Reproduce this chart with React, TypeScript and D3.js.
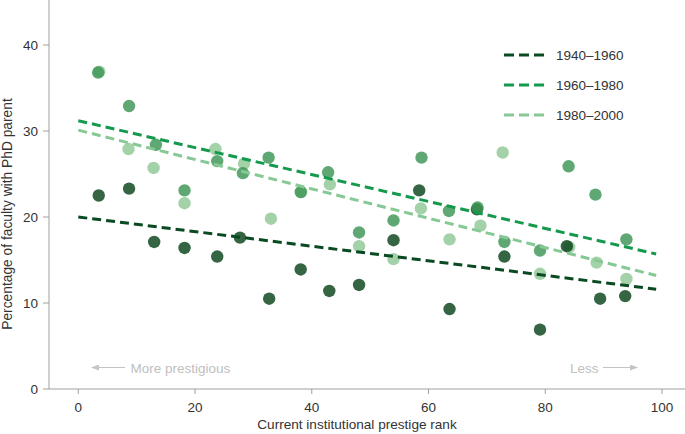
import React from "react";
import * as d3 from "d3";

const W = 685;
const H = 434;

const series = ["1940–1960", "1960–1980", "1980–2000"];
const lineColors = ["#0a4a22", "#14994d", "#86c995"];
const pointColors = ["#08431a", "#3d9554", "#8fc795"];

const xDark = [3.5, 8.7, 13.0, 18.2, 23.8, 27.7, 32.7, 38.1, 43.0, 48.1, 54.0, 58.4, 63.6, 68.3, 73.0, 79.1, 83.7, 89.4, 93.7];
const yDark = [22.5, 23.3, 17.1, 16.4, 15.4, 17.6, 10.5, 13.9, 11.4, 12.1, 17.3, 23.1, 9.3, 20.9, 15.4, 6.9, 16.6, 10.5, 10.8];

const xMid = [3.4, 8.7, 13.3, 18.2, 23.8, 28.2, 32.6, 38.1, 42.8, 48.1, 54.0, 58.8, 63.5, 68.4, 73.0, 79.1, 84.0, 88.6, 93.9];
const yMid = [36.8, 32.9, 28.4, 23.1, 26.5, 25.1, 26.9, 22.9, 25.2, 18.2, 19.6, 26.9, 20.7, 21.1, 17.1, 16.1, 25.9, 22.6, 17.4];

const xLight = [3.6, 8.6, 12.9, 18.2, 23.5, 28.4, 33.0, 38.2, 43.1, 48.1, 54.0, 58.7, 63.6, 68.9, 72.7, 79.1, 84.1, 88.8, 93.9];
const yLight = [36.9, 27.9, 25.7, 21.6, 27.9, 26.2, 19.8, 22.9, 23.8, 16.6, 15.1, 21.0, 17.4, 19.0, 27.5, 13.4, 16.5, 14.7, 12.8];

const trendX = [0, 99];
const trendDark = [20.0, 11.6];
const trendMid = [31.2, 15.7];
const trendLight = [30.1, 13.2];

const xTicks = [0, 20, 40, 60, 80, 100];
const yTicks = [0, 10, 20, 30, 40];

const xLabel = "Current institutional prestige rank";
const yLabel = "Percentage of faculty with PhD parent";
const leftNote = "More prestigious";
const rightNote = "Less";

const FONT = "'Liberation Sans', Arial, Helvetica, sans-serif";

export default function App() {
  const x = d3.scaleLinear().domain([0, 100]).range([78.3, 662]);
  const y = d3.scaleLinear().domain([0, 10]).range([389, 303]);
  const axisColor = "#a0a0a0";
  const textColor = "#333";

  const pts = [
    { xs: xLight, ys: yLight, c: pointColors[2] },
    { xs: xDark, ys: yDark, c: pointColors[0] },
    { xs: xMid, ys: yMid, c: pointColors[1] },
  ];
  const trends = [
    { ys: trendDark, c: lineColors[0] },
    { ys: trendMid, c: lineColors[1] },
    { ys: trendLight, c: lineColors[2] },
  ];
  const line = d3
    .line<[number, number]>()
    .x((d) => x(d[0]))
    .y((d) => y(d[1]));

  return (
    <svg
      width={W}
      height={H}
      style={{ position: "absolute", left: 0, top: 0, background: "#fff" }}
      fontFamily={FONT}
    >
      {/* axes */}
      <line x1={49} x2={49} y1={0} y2={389} stroke={axisColor} strokeWidth={1} />
      <line x1={49} x2={W} y1={389} y2={389} stroke={axisColor} strokeWidth={1} />
      {yTicks.map((t) => (
        <g key={"y" + t}>
          <line x1={43} x2={49} y1={y(t)} y2={y(t)} stroke={axisColor} />
          <text x={38} y={y(t)} dy="0.35em" textAnchor="end" fontSize={13.5} fill={textColor}>
            {t}
          </text>
        </g>
      ))}
      {xTicks.map((t) => (
        <g key={"x" + t}>
          <line x1={x(t)} x2={x(t)} y1={389} y2={394} stroke={axisColor} />
          <text x={x(t)} y={412} textAnchor="middle" fontSize={13.5} fill={textColor}>
            {t}
          </text>
        </g>
      ))}
      <text x={357} y={429} textAnchor="middle" fontSize={13.6} fill={textColor}>
        {xLabel}
      </text>
      <text
        transform={`translate(12,${214}) rotate(-90)`}
        textAnchor="middle"
        fontSize={13.8}
        fill={textColor}
      >
        {yLabel}
      </text>

      {/* annotations */}
      <defs>
        <marker id="arr" markerWidth={8} markerHeight={6} refX={7} refY={3} orient="auto" markerUnits="userSpaceOnUse">
          <path d="M0,0 L8,3 L0,6 Z" fill="#c4c4c4" />
        </marker>
      </defs>
      <line x1={125} x2={92} y1={367.5} y2={367.5} stroke="#c4c4c4" strokeWidth={1.2} markerEnd="url(#arr)" />
      <text x={130.5} y={372.5} fontSize={13.5} fill="#c0c0c0">
        {leftNote}
      </text>
      <text x={570} y={372.5} fontSize={13.5} fill="#c0c0c0">
        {rightNote}
      </text>
      <line x1={603} x2={637} y1={367.5} y2={367.5} stroke="#c4c4c4" strokeWidth={1.2} markerEnd="url(#arr)" />

      {/* points */}
      {pts.map((s, i) => (
        <g key={"p" + i}>
          {s.xs.map((xv, j) => (
            <circle key={j} cx={x(xv)} cy={y(s.ys[j])} r={6.2} fill={s.c} fillOpacity={0.82} />
          ))}
        </g>
      ))}

      {/* trend lines */}
      {trends.map((t, i) => (
        <path
          key={"t" + i}
          d={line(trendX.map((xv, j) => [xv, t.ys[j]] as [number, number])) || ""}
          fill="none"
          stroke={t.c}
          strokeWidth={3}
          strokeDasharray="9,5"
        />
      ))}

      {/* legend */}
      {series.map((name, i) => (
        <g key={"l" + i} transform={`translate(504,${55 + i * 30})`}>
          <line x1={0} x2={43} y1={0} y2={0} stroke={lineColors[i]} strokeWidth={3} strokeDasharray="10,5" />
          <text x={52} y={0} dy="0.35em" fontSize={13.5} fill={textColor}>
            {name}
          </text>
        </g>
      ))}
    </svg>
  );
}
